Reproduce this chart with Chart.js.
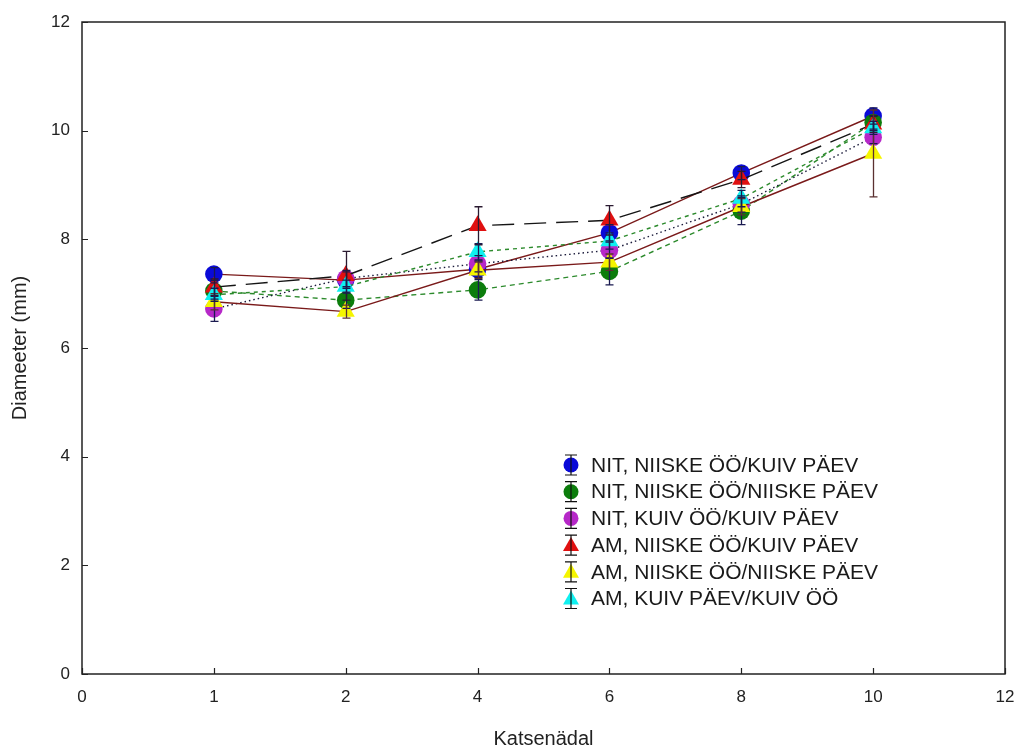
<!DOCTYPE html>
<html>
<head>
<meta charset="utf-8">
<script src="https://cdn.jsdelivr.net/npm/chart.js@4.4.0/dist/chart.umd.min.js"></script>
<style>
  html, body { margin: 0; padding: 0; background: #fff; }
  #wrap { width: 1022px; height: 749px; }
</style>
</head>
<body>
<div id="wrap"><canvas id="chart" width="1022" height="749"></canvas></div>
<script>
// Telje sildid (x: katsenädal, 0 ja 12 on ainult raami jaoks)
const weekLabels = ['0', '1', '2', '4', '6', '8', '10', '12'];

// Keskmised diameetrid (mm) nädalatel 1, 2, 4, 6, 8, 10
const nitNiiskeKuiv   = [7.36, 7.25, 7.45, 8.12, 9.22, 10.27];
const nitNiiskeNiiske = [7.05, 6.88, 7.07, 7.41, 8.52, 10.15];
const nitKuivKuiv     = [6.72, 7.28, 7.55, 7.80, 8.65, 9.88];
const amNiiskeKuiv    = [7.12, 7.33, 8.25, 8.35, 9.10, 10.12];
const amNiiskeNiiske  = [6.85, 6.67, 7.43, 7.58, 8.60, 9.58];
const amKuivKuiv      = [6.98, 7.13, 7.77, 7.97, 8.75, 10.05];

// Veapiirid (±)
const errNitNiiskeKuiv   = [0.12, 0.15, 0.15, 0.15, 0.12, 0.15];
const errNitNiiskeNiiske = [0.15, 0.15, 0.19, 0.25, 0.25, 0.12];
const errNitKuivKuiv     = [0.23, 0.15, 0.15, 0.15, 0.15, 0.12];
const errAmNiiskeKuiv    = [0.15, 0.45, 0.35, 0.27, 0.15, 0.15];
const errAmNiiskeNiiske  = [0.15, 0.12, 0.15, 0.15, 0.15, 0.80];
const errAmKuivKuiv      = [0.12, 0.12, 0.15, 0.15, 0.15, 0.12];

const seriesLabels = [
  'NIT, NIISKE ÖÖ/KUIV PÄEV',
  'NIT, NIISKE ÖÖ/NIISKE PÄEV',
  'NIT, KUIV ÖÖ/KUIV PÄEV',
  'AM, NIISKE ÖÖ/KUIV PÄEV',
  'AM, NIISKE ÖÖ/NIISKE PÄEV',
  'AM, KUIV PÄEV/KUIV ÖÖ'
];

const FONT = '"Liberation Sans", Arial, sans-serif';

// tühjad kohad 0 ja 12 juures
function pad(arr) { return [null, ...arr, null]; }

function makeSet(i, vals, errs, opts) {
  return {
    label: seriesLabels[i],
    data: pad(vals),
    errors: pad(errs),
    borderColor: opts.line,
    borderWidth: 1.4,
    borderDash: opts.dash,
    pointStyle: opts.shape,
    pointRadius: opts.shape === 'triangle' ? 10.5 : 8.8,
    pointHoverRadius: opts.shape === 'triangle' ? 10.5 : 8.8,
    pointBackgroundColor: opts.fill,
    pointBorderColor: opts.fill,
    pointBorderWidth: 0,
    errColor: opts.err,
    fill: false,
    tension: 0,
    order: 6 - i
  };
}

const datasets = [
  makeSet(0, nitNiiskeKuiv, errNitNiiskeKuiv, { line: '#7a1a1a', dash: [], shape: 'circle', fill: '#0a0ad8', err: '#1a1a50' }),
  makeSet(1, nitNiiskeNiiske, errNitNiiskeNiiske, { line: '#2c8a2c', dash: [5, 4], shape: 'circle', fill: '#0c7d0c', err: '#1a1a50' }),
  makeSet(2, nitKuivKuiv, errNitKuivKuiv, { line: '#1a1a3a', dash: [1.5, 3], shape: 'circle', fill: '#b628c8', err: '#1a1a50' }),
  makeSet(3, amNiiskeKuiv, errAmNiiskeKuiv, { line: '#151515', dash: [22, 10], shape: 'triangle', fill: '#e01010', err: '#2a1a30' }),
  makeSet(4, amNiiskeNiiske, errAmNiiskeNiiske, { line: '#7a1a1a', dash: [], shape: 'triangle', fill: '#f5f500', err: '#5a3030' }),
  makeSet(5, amKuivKuiv, errAmKuivKuiv, { line: '#2c8a2c', dash: [4, 4], shape: 'triangle', fill: '#10f0f0', err: '#1a1a50' })
];

// raam ja sissepoole suunatud tikid
const framePlugin = {
  id: 'frame',
  afterDraw(chart) {
    const { ctx, chartArea: a, scales } = chart;
    ctx.save();
    ctx.strokeStyle = '#222';
    ctx.lineWidth = 1.5;
    ctx.strokeRect(a.left, a.top, a.right - a.left, a.bottom - a.top);
    ctx.lineWidth = 1.2;
    ctx.beginPath();
    scales.x.ticks.forEach((t, i) => {
      const x = Math.round(scales.x.getPixelForTick(i)) + 0.5;
      ctx.moveTo(x, a.bottom);
      ctx.lineTo(x, a.bottom - 6);
    });
    scales.y.ticks.forEach((t, i) => {
      const y = Math.round(scales.y.getPixelForTick(i)) + 0.5;
      ctx.moveTo(a.left, y);
      ctx.lineTo(a.left + 6, y);
    });
    ctx.stroke();
    ctx.restore();
  }
};

// veapiirid
const errorBarPlugin = {
  id: 'errorBars',
  afterDatasetsDraw(chart) {
    const { ctx, scales } = chart;
    ctx.save();
    ctx.lineWidth = 1.3;
    chart.data.datasets.forEach((ds, di) => {
      const meta = chart.getDatasetMeta(di);
      ctx.strokeStyle = ds.errColor;
      meta.data.forEach((pt, i) => {
        const v = ds.data[i], e = ds.errors[i];
        if (v == null || e == null) return;
        const x = Math.round(pt.x) + 0.5;
        const yt = scales.y.getPixelForValue(v + e);
        const yb = scales.y.getPixelForValue(v - e);
        ctx.beginPath();
        ctx.moveTo(x, yt); ctx.lineTo(x, yb);
        ctx.moveTo(x - 4, yt); ctx.lineTo(x + 4, yt);
        ctx.moveTo(x - 4, yb); ctx.lineTo(x + 4, yb);
        ctx.stroke();
      });
    });
    ctx.restore();
  }
};

// legend graafiku sees
const legendPlugin = {
  id: 'innerLegend',
  afterDraw(chart) {
    const { ctx, chartArea: a } = chart;
    const x0 = a.left + 489;
    const y0 = 465;
    const step = 26.7;
    ctx.save();
    ctx.font = '21px ' + FONT;
    ctx.textBaseline = 'middle';
    chart.data.datasets.forEach((ds, i) => {
      const y = y0 + i * step;
      ctx.fillStyle = ds.pointBackgroundColor;
      ctx.beginPath();
      if (ds.pointStyle === 'triangle') {
        ctx.moveTo(x0, y - 8);
        ctx.lineTo(x0 + 8, y + 6);
        ctx.lineTo(x0 - 8, y + 6);
        ctx.closePath();
      } else {
        ctx.arc(x0, y, 7.5, 0, Math.PI * 2);
      }
      ctx.fill();
      ctx.strokeStyle = '#111';
      ctx.lineWidth = 1.2;
      ctx.beginPath();
      ctx.moveTo(x0, y - 10); ctx.lineTo(x0, y + 10);
      ctx.moveTo(x0 - 6, y - 10); ctx.lineTo(x0 + 6, y - 10);
      ctx.moveTo(x0 - 6, y + 10); ctx.lineTo(x0 + 6, y + 10);
      ctx.stroke();
      ctx.fillStyle = '#1a1a1a';
      ctx.fillText(ds.label, x0 + 20, y + 1);
    });
    ctx.restore();
  }
};

new Chart(document.getElementById('chart'), {
  type: 'line',
  data: { labels: weekLabels, datasets: datasets },
  plugins: [errorBarPlugin, framePlugin, legendPlugin],
  options: {
    responsive: false,
    animation: false,
    layout: { padding: { left: 4, right: 17, top: 22, bottom: 0 }, autoPadding: false },
    plugins: { legend: { display: false }, tooltip: { enabled: false } },
    scales: {
      x: {
        type: 'category',
        offset: false,
        grid: { display: false, drawTicks: false },
        border: { display: false },
        ticks: { color: '#222', font: { family: FONT, size: 17 }, padding: 13, maxRotation: 0, autoSkip: false },
        title: { display: true, text: 'Katsenädal', color: '#222', font: { family: FONT, size: 20, lineHeight: 1 }, padding: { top: 0, bottom: 0 } },
        afterFit(scale) { scale.height = 75; scale.paddingLeft = 0; scale.paddingRight = 0; }
      },
      y: {
        min: 0,
        max: 12,
        grid: { display: false, drawTicks: false },
        border: { display: false },
        ticks: { stepSize: 2, color: '#222', font: { family: FONT, size: 17 }, padding: 12 },
        title: { display: true, text: 'Diameeter (mm)', color: '#222', font: { family: FONT, size: 20 }, padding: { top: 4, bottom: 4 } },
        afterFit(scale) { scale.width = 78; scale.paddingTop = 0; scale.paddingBottom = 0; }
      }
    }
  }
});
</script>
</body>
</html>
